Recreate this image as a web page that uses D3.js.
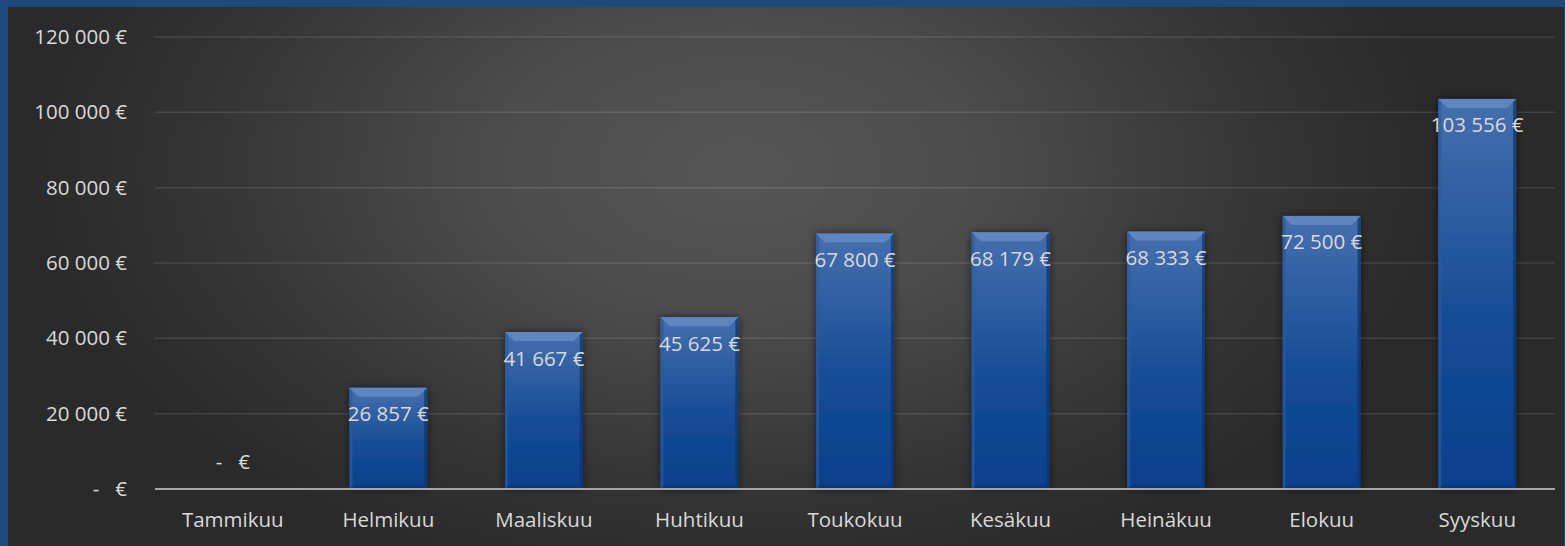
<!DOCTYPE html>
<html>
<head>
<meta charset="utf-8">
<script src="https://cdn.jsdelivr.net/npm/d3@7"></script>
<style>
  html, body { margin: 0; padding: 0; background: #1f497d; }
  svg { display: block; }
  text { font-family: "Open Sans", "Noto Sans", sans-serif; fill: #d9d9d9; white-space: pre; }
</style>
</head>
<body>
<svg id="chart" width="1565" height="546"></svg>
<script>
// months and monthly values (euros)
const months = ["Tammikuu", "Helmikuu", "Maaliskuu", "Huhtikuu", "Toukokuu", "Kesäkuu", "Heinäkuu", "Elokuu", "Syyskuu"];
const values = [0, 26857, 41667, 45625, 67800, 68179, 68333, 72500, 103556];
const yTicks = [0, 20000, 40000, 60000, 80000, 100000, 120000];

const width = 1565, height = 546;
const margin = {top: 37, right: 10, bottom: 57, left: 155};
const fontSize = "20.5px";

const svg = d3.select("#chart");
const defs = svg.append("defs");

// background gradient - lighter toward the middle
const bg = defs.append("radialGradient")
    .attr("id", "bgGrad")
    .attr("cx", "0.47").attr("cy", "0.3").attr("r", "0.6")
    .attr("gradientTransform", "translate(0.47 0.3) scale(0.75 1.3) translate(-0.47 -0.3)");
bg.append("stop").attr("offset", "0").attr("stop-color", "#565656");
bg.append("stop").attr("offset", "0.35").attr("stop-color", "#4c4c4c");
bg.append("stop").attr("offset", "0.75").attr("stop-color", "#353535");
bg.append("stop").attr("offset", "1").attr("stop-color", "#2a2a2a");

const barGrad = defs.append("linearGradient")
    .attr("id", "barGrad").attr("x1", 0).attr("y1", 0).attr("x2", 0).attr("y2", 1);
barGrad.append("stop").attr("offset", "0").attr("stop-color", "#466fae");
barGrad.append("stop").attr("offset", "0.55").attr("stop-color", "#174d96");
barGrad.append("stop").attr("offset", "1").attr("stop-color", "#063f8c");

const shadow = defs.append("filter").attr("id", "shadow")
    .attr("x", "-30%").attr("y", "-10%").attr("width", "160%").attr("height", "120%");
shadow.append("feDropShadow")
    .attr("dx", 0).attr("dy", 0).attr("stdDeviation", 4)
    .attr("flood-color", "#000").attr("flood-opacity", 0.55);

// panel
svg.append("rect")
    .attr("x", 8).attr("y", 7)
    .attr("width", width - 9).attr("height", height - 7)
    .attr("fill", "url(#bgGrad)");

const x = d3.scaleBand()
    .domain(months)
    .range([margin.left, width - margin.right])
    .paddingInner(0.5)
    .paddingOuter(0.25);

const y = d3.scaleLinear()
    .domain([0, 120000])
    .range([height - margin.bottom, margin.top]);

const fmt = v => v === 0 ? "-   €" : d3.format(",")(v).replace(/,/g, " ") + " €";

// gridlines
svg.append("g")
    .selectAll("line")
    .data(yTicks.filter(d => d > 0))
    .join("line")
    .attr("x1", margin.left).attr("x2", width - margin.right)
    .attr("y1", d => y(d)).attr("y2", d => y(d))
    .attr("stroke", "rgba(255,255,255,0.11)")
    .attr("stroke-width", 1.5);

// y axis labels
const yAxis = d3.axisLeft(y).tickValues(yTicks).tickFormat(fmt).tickSize(0).tickPadding(28);
const gy = svg.append("g")
    .attr("transform", `translate(${margin.left},0)`)
    .call(yAxis);
gy.select(".domain").remove();
gy.selectAll("text")
    .attr("fill", "#d9d9d9")
    .style("font-size", fontSize)
    .style("font-family", "'Open Sans', sans-serif");

// bars
const bars = svg.append("g")
    .selectAll("g")
    .data(months.map((m, i) => ({m, v: values[i]})).filter(d => d.v > 0))
    .join("g")
    .attr("filter", "url(#shadow)");

bars.append("rect")
    .attr("x", d => x(d.m))
    .attr("y", d => y(d.v))
    .attr("width", x.bandwidth())
    .attr("height", d => y(0) - y(d.v))
    .attr("fill", "url(#barGrad)");

// top bevel
const bev = 9;
bars.append("path")
    .attr("d", d => {
        const x0 = x(d.m), x1 = x0 + x.bandwidth(), t = y(d.v);
        return `M${x0},${t}L${x1},${t}L${x1 - bev},${t + bev}L${x0 + bev},${t + bev}Z`;
    })
    .attr("fill", "#7096cc")
    .attr("opacity", 0.6);
// side / bottom edges
bars.append("path")
    .attr("d", d => {
        const x0 = x(d.m), t = y(d.v), b = y(0);
        return `M${x0},${t}L${x0 + 3},${t + 3}L${x0 + 3},${b - 3}L${x0},${b}Z`;
    })
    .attr("fill", "#2e5a9a").attr("opacity", 0.7);
bars.append("path")
    .attr("d", d => {
        const x1 = x(d.m) + x.bandwidth(), t = y(d.v), b = y(0);
        return `M${x1},${t}L${x1 - 3},${t + 3}L${x1 - 3},${b - 3}L${x1},${b}Z`;
    })
    .attr("fill", "#08336e").attr("opacity", 0.7);
bars.append("path")
    .attr("d", d => {
        const x0 = x(d.m), x1 = x0 + x.bandwidth(), b = y(0);
        return `M${x0},${b}L${x1},${b}L${x1 - 4},${b - 4}L${x0 + 4},${b - 4}Z`;
    })
    .attr("fill", "#0b3370").attr("opacity", 0.7);

// x axis line
svg.append("line")
    .attr("x1", margin.left).attr("x2", width - margin.right)
    .attr("y1", y(0)).attr("y2", y(0))
    .attr("stroke", "#a6a6a6").attr("stroke-width", 2);

// category labels
const xAxis = d3.axisBottom(x).tickSize(0).tickPadding(23);
const gx = svg.append("g")
    .attr("transform", `translate(0,${y(0)})`)
    .call(xAxis);
gx.select(".domain").remove();
gx.selectAll("text")
    .attr("fill", "#d9d9d9")
    .style("font-size", fontSize)
    .style("font-family", "'Open Sans', sans-serif");

// data labels
svg.append("g")
    .selectAll("text")
    .data(months.map((m, i) => ({m, v: values[i]})))
    .join("text")
    .attr("x", d => x(d.m) + x.bandwidth() / 2)
    .attr("y", d => d.v === 0 ? y(0) - 25 : y(d.v) + 28)
    .attr("text-anchor", "middle")
    .attr("dominant-baseline", "middle")
    .style("font-size", fontSize)
    .text(d => fmt(d.v));
</script>
</body>
</html>
